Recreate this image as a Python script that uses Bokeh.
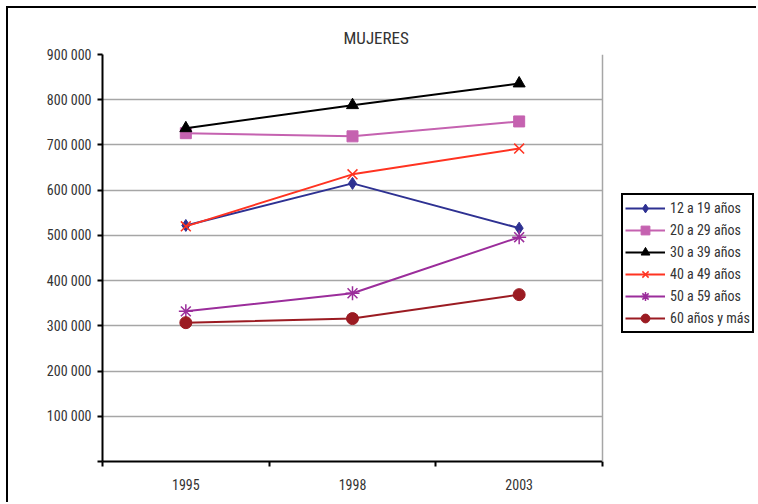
from bokeh.plotting import figure
from bokeh.models import FixedTicker, Legend, LegendItem, ColumnDataSource, Range1d, BoxAnnotation, Span
from bokeh.embed import file_html
from bokeh.resources import INLINE

title_text = "MUJERES"
years = ["1995", "1998", "2003"]
names = ["12 a 19 años", "20 a 29 años", "30 a 39 años", "40 a 49 años", "50 a 59 años", "60 años y más"]
s12_19 = [522000, 615000, 516000]
s20_29 = [726000, 719000, 752000]
s30_39 = [737000, 788000, 836000]
s40_49 = [520000, 635000, 692000]
s50_59 = [332000, 372000, 496000]
s60_mas = [307000, 316000, 369000]
y_ticks = [0, 100000, 200000, 300000, 400000, 500000, 600000, 700000, 800000, 900000]

series = [s12_19, s20_29, s30_39, s40_49, s50_59, s60_mas]
colors = ["#2e3192", "#c562b0", "#000000", "#ff3321", "#9b2d9b", "#9b1b22"]
markers = ["diamond", "square", "triangle", "x", "asterisk", "circle"]
msizes = [12, 11, 12, 14, 14, 12]
mwidths = [1, 1, 1, 1.5, 1.5, 1]

FONT = "Roboto Condensed, Liberation Sans Narrow, Arial Narrow, sans-serif"
GRID = "#a6a6a6"
TEXT = "#333333"

W, H = 750, 496
LEFT, TOP, BOTTOM = 94, 46, 43
PLOT_W = 500  # pixel width of the plot area
n = len(years)
p = figure(width=W, height=H, output_backend="svg", toolbar_location=None,
           x_range=Range1d(0, n * (W - LEFT) / PLOT_W), y_range=Range1d(0, 900000),
           min_border_left=LEFT, min_border_right=0, min_border_top=TOP, min_border_bottom=BOTTOM,
           styles={"border-left": "2px solid black", "border-top": "2px solid black",
                   "margin-left": "6px", "margin-top": "6px"})
p.title.text = title_text
p.title.text_font = FONT
p.title.text_font_size = "17px"
p.title.text_font_style = "normal"
p.title.text_color = TEXT
p.title.align = "left"
p.title.offset = 241
p.title.standoff = 13

xs = [i + 0.5 for i in range(n)]
p.xaxis.ticker = FixedTicker(ticks=xs, minor_ticks=list(range(n + 1)))
p.xaxis.major_label_overrides = {x: y for x, y in zip(xs, years)}
p.xaxis.bounds = (0, n)
p.xaxis.major_tick_out = 0
p.xaxis.major_tick_in = 0
p.xaxis.minor_tick_out = 5
p.xaxis.minor_tick_in = 0
p.xaxis.minor_tick_line_color = "black"
p.xaxis.minor_tick_line_width = 2
p.xaxis.axis_line_width = 2
p.xaxis.major_label_standoff = 12
p.xgrid.visible = False

p.yaxis.ticker = FixedTicker(ticks=y_ticks)
p.yaxis.major_label_overrides = {v: ("" if v == 0 else f"{v:,}".replace(",", " ")) for v in y_ticks}
p.yaxis.major_tick_out = 5
p.yaxis.major_tick_in = 0
p.yaxis.major_tick_line_width = 2
p.yaxis.minor_tick_line_color = None
p.yaxis.axis_line_width = 2
p.yaxis.major_label_standoff = 6
p.ygrid.grid_line_color = GRID
p.ygrid.grid_line_width = 1.5

for ax in (p.xaxis, p.yaxis):
    ax.major_label_text_font = FONT
    ax.major_label_text_font_size = "14px"
    ax.major_label_text_color = TEXT
    ax.axis_line_color = "black"

p.outline_line_color = None

# blank area right of the plot area (holds the legend)
p.add_layout(BoxAnnotation(left=n, fill_color="white", fill_alpha=1, line_color=None))
p.add_layout(Span(location=n, dimension="height", line_color=GRID, line_width=1.5))

items = []
for name, vals, c, m, ms, mw in zip(names, series, colors, markers, msizes, mwidths):
    src = ColumnDataSource(dict(x=xs, y=vals))
    r1 = p.line("x", "y", source=src, line_color=c, line_width=2)
    r2 = p.scatter("x", "y", source=src, marker=m, size=ms, fill_color=c, line_color=c, line_width=mw)
    items.append(LegendItem(label=name, renderers=[r1, r2]))

legend = Legend(items=items, location=(519, 128), border_line_color="black", border_line_width=2,
                border_line_alpha=1, label_text_font=FONT, label_text_font_size="14px",
                label_text_color=TEXT, label_height=18,
                glyph_width=40, glyph_height=22, label_standoff=5, spacing=0, padding=2, margin=0,
                background_fill_alpha=1)
p.add_layout(legend, "center")

open("out.html", "w").write(file_html(p, INLINE))
